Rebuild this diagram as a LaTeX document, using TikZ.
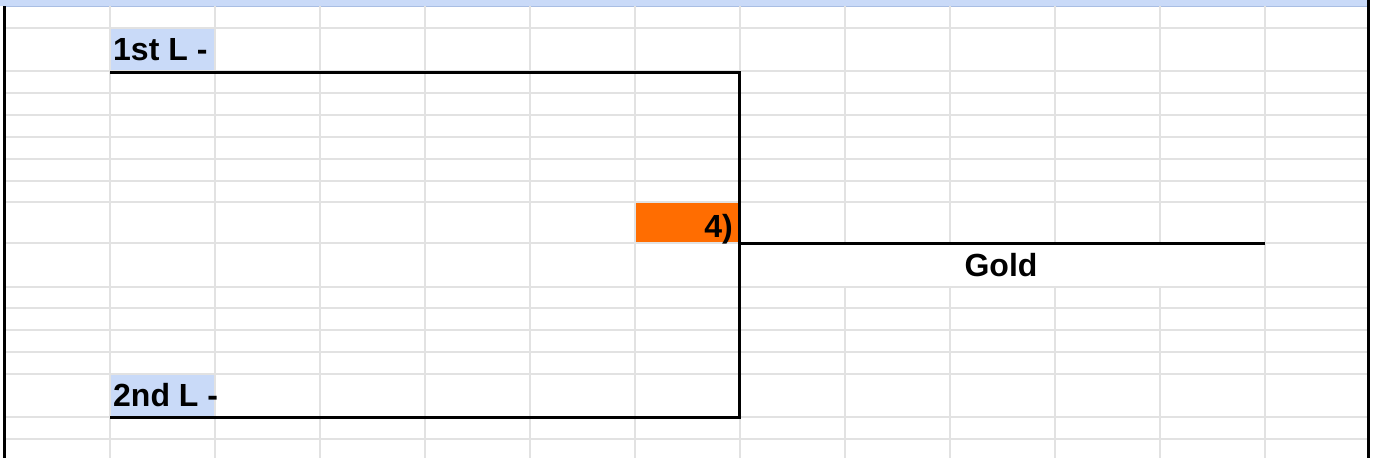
\documentclass[tikz,border=0pt]{standalone}
\usepackage{fontspec}
\setmainfont{Liberation Sans}
\definecolor{hdrblue}{HTML}{C9DAF8}
\definecolor{hdrline}{HTML}{A9BEE3}
\definecolor{cellblue}{HTML}{C9DAF8}
\definecolor{cellorange}{HTML}{FF6D01}
\definecolor{gridc}{HTML}{E2E2E2}
\tikzset{
  gridline/.style={draw=gridc, line width=1.2pt},
  bracket/.style={draw=black, line width=3pt},
  border/.style={draw=black, line width=3.2pt},
  lbl/.style={font=\fontsize{32}{32}\selectfont\bfseries, inner sep=0pt, text=black},
}
\begin{document}
\begin{tikzpicture}[x=1pt,y=-1pt]
\useasboundingbox (0,0) rectangle (1373,458);
\fill[white] (0,0) rectangle (1373,458);
% header band
\fill[hdrblue] (0,0) rectangle (1367,6);
\draw[hdrline, line width=1pt] (6,6) -- (1367,6);
% coloured cells
\fill[cellblue] (110,28) rectangle (215,71);
\fill[cellblue] (110,374) rectangle (215,417);
\fill[cellorange] (635,202) rectangle (739,243);
% grid: horizontal lines
\foreach \yy in {28,93,115,137,159,181,202,287,308,330,352,374,439}
  \draw[gridline] (6,\yy) -- (1367,\yy);
\draw[gridline] (6,71) -- (1367,71);
\draw[gridline] (6,243) -- (1367,243);
\draw[gridline] (6,417) -- (1367,417);
% grid: vertical lines
\foreach \xx in {110,215,320,425,530,635,740,1265}
  \draw[gridline] (\xx,6) -- (\xx,458);
\foreach \xx in {845,950,1055,1160} {
  \draw[gridline] (\xx,6) -- (\xx,243);
  \draw[gridline] (\xx,287) -- (\xx,458);
}
% labels
\node[lbl, anchor=base west] (first) at (113,60) {1st L -};
\node[lbl, anchor=base west] (second) at (113,406) {2nd L -};
\node[lbl, anchor=base east] (four) at (733,237) {4)};
\node[lbl, anchor=base] (gold) at (1001,276) {Gold};
% bracket
\coordinate (a1) at (110,72);
\coordinate (a2) at (739,72);
\coordinate (b1) at (110,417.5);
\coordinate (b2) at (739,417.5);
\coordinate (m1) at (739,243);
\coordinate (m2) at (1265,243);
\draw[bracket] (a1) -- (a2) -- (b2) -- (b1);
\draw[bracket] (m1) -- (m2);
% sheet borders
\coordinate (lt) at (4.5,6);
\coordinate (lb) at (4.5,458);
\coordinate (rt) at (1368.5,0);
\coordinate (rb) at (1368.5,458);
\draw[border] (lt) -- (lb);
\draw[border] (rt) -- (rb);
\end{tikzpicture}
\end{document}
